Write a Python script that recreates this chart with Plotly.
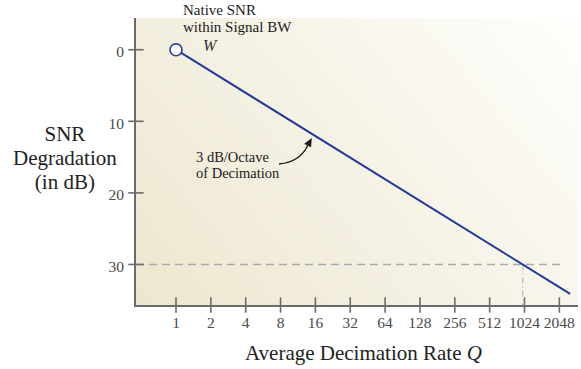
import math
import plotly.graph_objects as go

# --- data -------------------------------------------------------------
decimation_q = [1, 2538]          # average decimation rate Q
degradation_db = [0, 34.1]        # SNR degradation in dB

tick_q = [1, 2, 4, 8, 16, 32, 64, 128, 256, 512, 1024, 2048]
tick_q_labels = [str(v) for v in tick_q]
tick_db = [0, 10, 20, 30]

ref_db = 30                       # reference degradation level
ref_line_end_q = 2290             # right end of the dashed reference line

# --- geometry ---------------------------------------------------------
W, H = 581, 369
M_L, M_R, M_T, M_B = 136, 3, 18, 64
X_RANGE = [-0.3455, 3.4724]       # log10(Q)
Y_RANGE = [35.66, -4.43]          # reversed: 0 dB near the top

AXIS_COL = "#6b6b6b"
LINE_COL = "#24399a"
TEXT_COL = "#222222"
SERIF = "Liberation Serif, Times New Roman, serif"

plot_w = W - M_L - M_R
plot_h = H - M_T - M_B


def px(x, y):
    """Pixel position -> paper coordinates."""
    return (x - M_L) / plot_w, (H - M_B - y) / plot_h


# Q where the degradation line reaches the reference level (log interpolation)
lq0, lq1 = math.log10(decimation_q[0]), math.log10(decimation_q[1])
frac = (ref_db - degradation_db[0]) / (degradation_db[1] - degradation_db[0])
ref_q = 10 ** (lq0 + frac * (lq1 - lq0))

q_left = 10 ** X_RANGE[0]
db_bottom = Y_RANGE[0]

fig = go.Figure()

# soft background wash behind the plot area
fig.add_trace(go.Heatmap(
    x=[0, 1], y=[0, 1], z=[[0.0, 0.65], [0.35, 1.0]],
    colorscale=[[0, "#ede6cf"], [1, "#fefefc"]],
    zsmooth="best", showscale=False, hoverinfo="skip",
    xaxis="x", yaxis="y",
))

# dashed 30 dB reference line
fig.add_trace(go.Scatter(
    x=[q_left, ref_line_end_q], y=[ref_db, ref_db], mode="lines",
    line=dict(color="#aaaaaa", width=1.5, dash="8px,5px"),
    xaxis="x2", yaxis="y2", hoverinfo="skip",
))
# dash-dot drop line at the crossing
fig.add_trace(go.Scatter(
    x=[ref_q, ref_q], y=[ref_db, db_bottom], mode="lines",
    line=dict(color="#b8b8b8", width=1.2, dash="6px,3px,1px,3px"),
    xaxis="x2", yaxis="y2", hoverinfo="skip",
))

# degradation line
fig.add_trace(go.Scatter(
    x=decimation_q, y=degradation_db, mode="lines",
    line=dict(color=LINE_COL, width=2),
    xaxis="x2", yaxis="y2", hoverinfo="skip",
))
# native SNR point
fig.add_trace(go.Scatter(
    x=[decimation_q[0]], y=[degradation_db[0]], mode="markers",
    marker=dict(symbol="circle", size=12, color="white",
                line=dict(color=LINE_COL, width=1.6)),
    xaxis="x2", yaxis="y2", hoverinfo="skip", cliponaxis=False,
))

# tick marks crossing both axis lines
fig.add_trace(go.Scatter(
    x=tick_q, y=[db_bottom] * len(tick_q), mode="markers",
    marker=dict(symbol="line-ns", size=11, line=dict(color=AXIS_COL, width=1.6)),
    xaxis="x2", yaxis="y2", hoverinfo="skip", cliponaxis=False,
))
fig.add_trace(go.Scatter(
    x=[q_left] * len(tick_db), y=tick_db, mode="markers",
    marker=dict(symbol="line-ew", size=11, line=dict(color=AXIS_COL, width=1.6)),
    xaxis="x2", yaxis="y2", hoverinfo="skip", cliponaxis=False,
))

# curved arrow for the slope callout
sx, sy = px(279, 164)
cx, cy = px(300, 162)
ex, ey = px(308, 145)
fig.add_shape(type="path", xref="paper", yref="paper",
              path=f"M {sx},{sy} Q {cx},{cy} {ex},{ey}",
              line=dict(color="#1a1a1a", width=1.3))
t1 = px(311.5, 138.5)
t2 = px(310.8, 147.0)
t3 = px(304.6, 143.8)
fig.add_shape(type="path", xref="paper", yref="paper",
              path=f"M {t1[0]},{t1[1]} L {t2[0]},{t2[1]} L {t3[0]},{t3[1]} Z",
              fillcolor="#1a1a1a", line=dict(color="#1a1a1a", width=0.5))


def text_block(lines, x, y, size, leading, anchor="left", align="left",
               color=TEXT_COL):
    """Multi-line text with a given line pitch (px); mid-height at pixel (x, y)."""
    base = leading / 1.3            # plotly spaces lines at 1.3 x the base size
    body = "<br>".join(f'<span style="font-size:{size}px">{s}</span>' for s in lines)
    pxx, pyy = px(x, y)
    fig.add_annotation(x=pxx, y=pyy, xref="paper", yref="paper", text=body,
                       showarrow=False, xanchor=anchor, yanchor="middle",
                       align=align,
                       font=dict(family=SERIF, size=base, color=color))


# callouts
text_block(["Native SNR", "within Signal BW"], 181, 18.5, 15, 16.8)
text_block(["<i>W</i>"], 210, 46, 16, 20, anchor="center", color="#333333")
text_block(["3 dB/Octave", "of Decimation"], 194, 165, 14.5, 16.2)

# axis titles
text_block(["SNR", "Degradation", "(in dB)"], 65, 158, 21, 23.8,
           anchor="center", align="center")
text_block(["Average Decimation Rate <i>Q</i>"], 363.5, 353, 21, 27,
           anchor="center", align="center")

tick_font = dict(family=SERIF, size=15.5, color="#4a4a4a")

fig.update_layout(
    width=W, height=H,
    margin=dict(l=M_L, r=M_R, t=M_T, b=M_B, pad=0),
    paper_bgcolor="white", plot_bgcolor="white",
    showlegend=False, hovermode=False,
    xaxis=dict(range=[0, 1], visible=False, fixedrange=True),
    yaxis=dict(range=[0, 1], visible=False, fixedrange=True),
    xaxis2=dict(
        type="log", range=X_RANGE, overlaying="x", anchor="y2",
        tickvals=tick_q, ticktext=tick_q_labels, tickfont=tick_font,
        ticks="", showgrid=False, zeroline=False,
        showline=True, linecolor=AXIS_COL, linewidth=2,
        ticklabelstandoff=2,
    ),
    yaxis2=dict(
        range=Y_RANGE, overlaying="y", anchor="x2",
        tickvals=tick_db, ticktext=[str(v) for v in tick_db], tickfont=tick_font,
        ticks="", showgrid=False, zeroline=False,
        showline=True, linecolor=AXIS_COL, linewidth=2,
        ticklabelstandoff=7, ticklabelshift=-2,
    ),
)

fig.write_html("out.html")
